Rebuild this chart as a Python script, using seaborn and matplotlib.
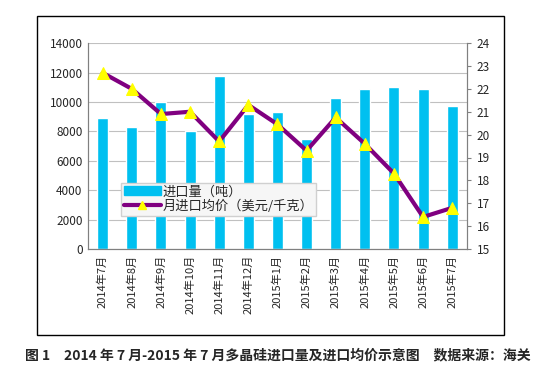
import pandas as pd
import matplotlib.pyplot as plt
import matplotlib.patches as mpatches
from matplotlib.lines import Line2D
import seaborn as sns

# 数据
months = ['2014年7月', '2014年8月', '2014年9月', '2014年10月', '2014年11月', '2014年12月',
          '2015年1月', '2015年2月', '2015年3月', '2015年4月', '2015年5月', '2015年6月', '2015年7月']
volume = [8900, 8300, 10000, 8050, 11750, 9200, 9300, 7500, 10300, 10900, 11050, 10900, 9700]
price = [22.7, 22.0, 20.9, 21.0, 19.7, 21.3, 20.45, 19.3, 20.75, 19.6, 18.3, 16.4, 16.8]

df = pd.DataFrame({'month': months, 'volume': volume, 'price': price})

sns.set_style('white')
plt.rcParams['font.family'] = ['Noto Sans CJK SC', 'DejaVu Sans']
plt.rcParams['axes.unicode_minus'] = False

bar_color = '#00C0F0'
line_color = '#800080'

fig = plt.figure(figsize=(5.44, 3.75), dpi=100)
ax = fig.add_axes([0.162, 0.336, 0.696, 0.549])

sns.barplot(data=df, x='month', y='volume', color=bar_color, width=0.38,
            saturation=1, ax=ax, zorder=2)
ax.set_ylim(0, 14000)
ax.set_yticks(range(0, 14001, 2000))
ax.grid(axis='y', color='#c0c0c0', linewidth=0.8, zorder=0)
ax.set_axisbelow(True)
ax.set_xlim(-0.5, len(months) - 0.5)
ax.set_xlabel('')
ax.set_ylabel('')
ax.tick_params(axis='x', labelrotation=90, labelsize=8, length=0, pad=4)
ax.tick_params(axis='y', labelsize=8.5, length=0, pad=4)
# 类别分隔刻度
ax.set_xticks([i + 0.5 for i in range(len(months) - 1)], minor=True)
ax.tick_params(axis='x', which='minor', length=3, color='#808080', direction='out')

ax2 = ax.twinx()
sns.lineplot(x=list(range(len(months))), y=price, color=line_color, linewidth=3,
             marker='^', markersize=8, ax=ax2, zorder=3)
ln = ax2.lines[0]
ln.set_markerfacecolor('#FFFF00')
ln.set_markeredgecolor('#FFFF00')
ax2.set_ylim(15, 24)
ax2.set_yticks(range(15, 25))
ax2.tick_params(axis='y', labelsize=8.5, length=3, color='#808080', pad=4)

for a in (ax, ax2):
    for s in a.spines.values():
        s.set_color('#808080')
        s.set_linewidth(0.8)
    a.spines['top'].set_visible(False)

handles = [mpatches.Patch(color=bar_color),
           Line2D([], [], color=line_color, linewidth=3, marker='^', markersize=6,
                  markerfacecolor='#FFFF00', markeredgecolor='#FFFF00')]
labels = ['进口量（吨）', '月进口均价（美元/千克）']
leg = ax2.legend(handles, labels, loc='lower left', bbox_to_anchor=(0.07, 0.13),
                 fontsize=9.5, frameon=True, fancybox=False, framealpha=1,
                 borderpad=0.2, labelspacing=0.1, handlelength=2.8, handletextpad=0.1)
leg.get_frame().set_edgecolor('#d0d0d0')
leg.get_frame().set_facecolor('#f6f6f6')

# 外框
fig.patches.append(mpatches.Rectangle((0.068, 0.107), 0.858, 0.851, transform=fig.transFigure,
                                      fill=False, edgecolor='black', linewidth=1))

fig.text(0.51, 0.053, '图 1　2014 年 7 月-2015 年 7 月多晶硅进口量及进口均价示意图　数据来源：海关',
         ha='center', va='center', fontsize=10, fontweight='bold')

fig.savefig('out.png', dpi=100)
